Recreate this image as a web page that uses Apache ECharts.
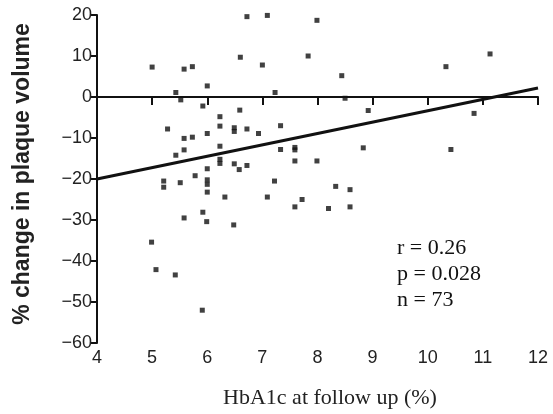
<!DOCTYPE html>
<html>
<head>
<meta charset="utf-8">
<script src="https://cdn.jsdelivr.net/npm/echarts@6/dist/echarts.min.js"></script>
<style>
  html, body { margin: 0; padding: 0; background: #fff; }
  #chart { width: 553px; height: 414px; }
</style>
</head>
<body>
<div id="chart"></div>
<script>
// HbA1c at follow up (%) vs % change in plaque volume
const hba1c = [
  6.72, 7.09, 7.99, 6.60, 7.83, 5.00, 5.58, 5.73, 7.00, 8.44,
  6.00, 5.43, 5.52, 7.23, 8.50, 5.92, 6.59, 8.92, 6.23, 6.23,
  6.49, 6.49, 6.72, 6.93, 7.33, 5.28, 6.00, 5.58, 5.73, 5.58,
  5.43, 6.23, 6.23, 6.23, 6.49, 6.58, 6.72, 6.00, 5.78, 6.00,
  6.00, 5.21, 5.21, 5.51, 6.00, 6.32, 5.92, 5.58, 5.99, 6.48,
  4.99, 5.07, 5.42, 5.91, 7.33, 7.59, 7.59, 8.83, 7.59, 7.99,
  7.22, 8.33, 8.59, 7.09, 7.72, 7.59, 8.20, 8.59, 10.33, 11.13,
  10.84, 10.42
]
const plaqueChange = [
  19.6, 19.9, 18.7, 9.7, 10.0, 7.3, 6.8, 7.4, 7.8, 5.2,
  2.7, 1.1, -0.7, 1.1, -0.3, -2.2, -3.2, -3.3, -4.8, -7.1,
  -7.5, -8.4, -7.8, -8.9, -7.0, -7.8, -8.9, -10.1, -9.8, -12.9,
  -14.2, -12.0, -15.2, -16.2, -16.3, -17.7, -16.7, -17.5, -19.2, -20.2,
  -21.3, -20.5, -22.0, -20.9, -23.2, -24.4, -28.1, -29.5, -30.4, -31.2,
  -35.4, -42.1, -43.4, -52.0, -12.8, -12.3, -12.9, -12.4, -15.6, -15.6,
  -20.5, -21.8, -22.6, -24.4, -25.0, -26.8, -27.2, -26.8, 7.4, 10.5,
  -4.0, -12.8
]
// regression line end points
const fitX = [4, 12]
const fitY = [-20.0, 2.2]
const statLines = ['r = 0.26', 'p = 0.028', 'n = 73']

const points = hba1c.map((x, i) => [x, plaqueChange[i]])
const fitLine = fitX.map((x, i) => [x, fitY[i]])

const chart = echarts.init(document.getElementById('chart'))

const option = {
  animation: false,
  backgroundColor: '#fff',
  grid: {
    left: 97,
    right: 15,
    top: 15,
    bottom: 71,
    containLabel: false,
    outerBoundsMode: 'none'
  },
  xAxis: {
    type: 'value',
    min: 4,
    max: 12,
    interval: 1,
    name: 'HbA1c at follow up (%)',
    nameLocation: 'middle',
    nameGap: 44,
    nameTextStyle: {
      fontFamily: 'Liberation Serif',
      fontSize: 22,
      color: '#222',
      padding: [0, 0, 0, 25]
    },
    axisLine: { lineStyle: { color: '#111', width: 2 } },
    axisTick: { length: 8, lineStyle: { color: '#111', width: 2 } },
    axisLabel: {
      fontFamily: 'Liberation Sans',
      fontSize: 18,
      color: '#222',
      margin: 6
    },
    splitLine: { show: false }
  },
  yAxis: {
    type: 'value',
    min: -60,
    max: 20,
    interval: 10,
    name: '% change in plaque volume',
    nameLocation: 'middle',
    nameGap: 63,
    nameTextStyle: {
      fontFamily: 'Liberation Sans',
      fontSize: 23,
      fontWeight: 'bold',
      color: '#222',
      padding: [0, 0, 0, 10]
    },
    axisLine: { show: true, lineStyle: { color: '#111', width: 2 } },
    axisTick: { show: true, length: 7, lineStyle: { color: '#111', width: 2 } },
    axisLabel: {
      fontFamily: 'Liberation Sans',
      fontSize: 18,
      color: '#222',
      margin: 5,
      formatter: v => String(v).replace('-', '\u2212')
    },
    splitLine: { show: false }
  },
  graphic: [
    {
      type: 'text',
      left: 397,
      top: 235,
      style: {
        text: statLines.join('\n'),
        fontFamily: 'Liberation Serif',
        fontSize: 22,
        lineHeight: 26,
        fill: '#111'
      }
    }
  ],
  series: [
    {
      type: 'scatter',
      data: points,
      symbol: 'rect',
      symbolSize: 5,
      itemStyle: { color: '#111' }
    },
    {
      type: 'line',
      data: fitLine,
      symbol: 'none',
      lineStyle: { color: '#111', width: 3 }
    }
  ]
}

chart.setOption(option)
</script>
</body>
</html>
